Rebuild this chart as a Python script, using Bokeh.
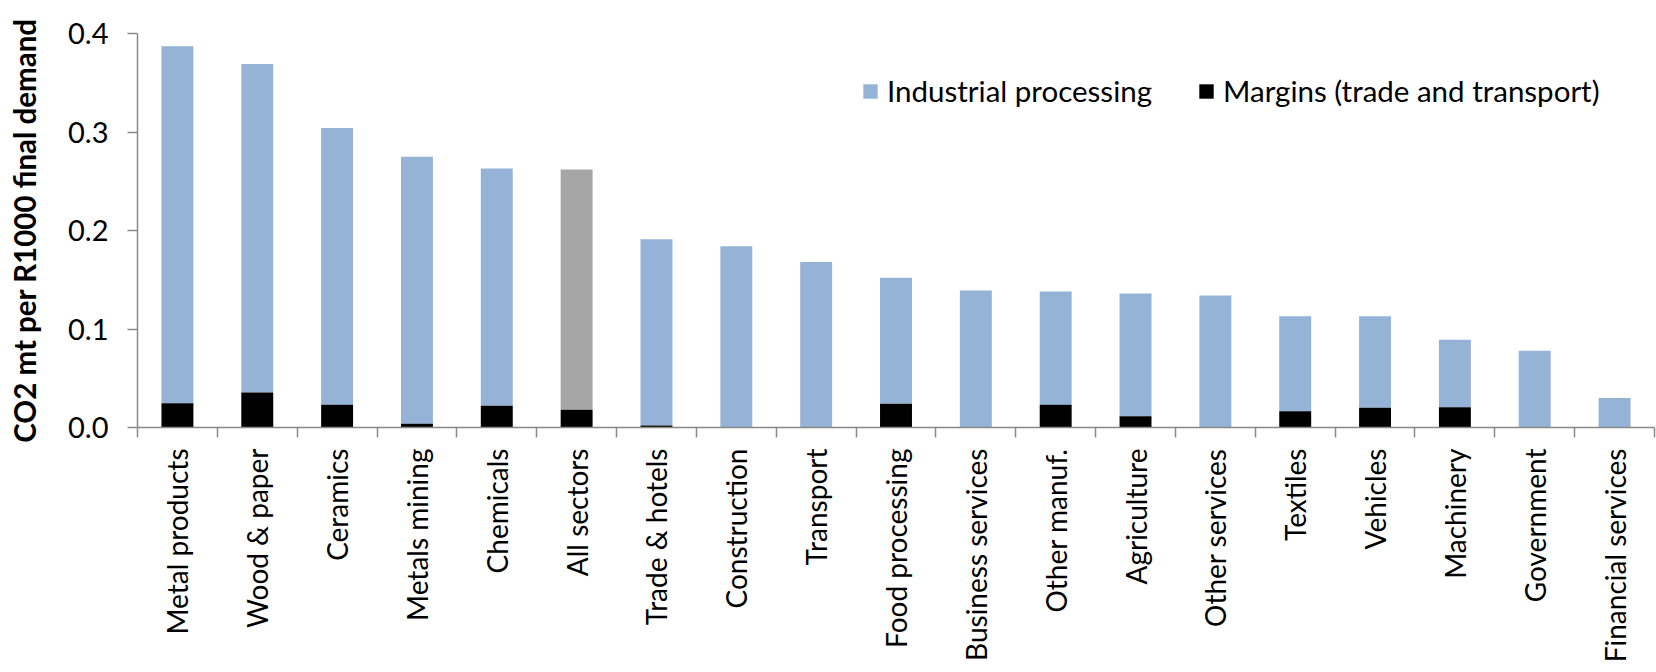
import math
import numpy as np
from bokeh.plotting import figure
from bokeh.models import (ColumnDataSource, Range1d, FixedTicker, LinearAxis, Legend,
                          LegendItem, NumeralTickFormatter)
from bokeh.embed import file_html
from bokeh.resources import INLINE

# ---------------- data ----------------
categories = ["Metal products", "Wood & paper", "Ceramics", "Metals mining", "Chemicals",
              "All sectors", "Trade & hotels", "Construction", "Transport", "Food processing",
              "Business services", "Other manuf.", "Agriculture", "Other services", "Textiles",
              "Vehicles", "Machinery", "Government", "Financial services"]
margins = [0.0245, 0.0355, 0.023, 0.0037, 0.022, 0.018, 0.002, 0.0, 0.0, 0.024,
           0.0, 0.023, 0.0115, 0.0, 0.0166, 0.020, 0.0206, 0.0, 0.0]
processing = [0.3625, 0.3335, 0.281, 0.2713, 0.241, 0.244, 0.189, 0.184, 0.168, 0.128,
              0.139, 0.115, 0.1245, 0.134, 0.0964, 0.093, 0.0684, 0.078, 0.030]
y_ticks = [0.0, 0.1, 0.2, 0.3, 0.4]
series_names = ["Industrial processing", "Margins (trade and transport)"]
y_title = "CO2 mt per R1000 final demand"

# ---------------- styles ----------------
BLUE = "#95B3D7"
GREY = "#A6A6A6"
BLACK = "#000000"
AXIS = "#898989"
FONT = "Lato"

n = len(categories)
centers = [i + 0.5 for i in range(n)]
bounds = [float(i) for i in range(n + 1)]
m = np.array(margins)
tops = m + np.array(processing)
top_colors = [GREY if c == "All sectors" else BLUE for c in categories]

src = ColumnDataSource(dict(x=centers, m=m, top=tops, zero=[0.0] * n, color=top_colors))

p = figure(width=1656, height=672, output_backend="svg", toolbar_location=None,
           x_range=Range1d(0, n), y_range=Range1d(0, 0.4),
           x_axis_type=None, y_axis_type=None,
           min_border_left=137, min_border_right=2, min_border_top=33, min_border_bottom=245)
p.outline_line_color = None
p.background_fill_color = "white"
p.border_fill_color = "white"

r_proc = p.vbar(x="x", bottom="m", top="top", width=0.4, fill_color="color",
                line_color=None, source=src)
r_marg = p.vbar(x="x", bottom="zero", top="m", width=0.4, fill_color=BLACK,
                line_color=None, source=src)

# y axis
yaxis = LinearAxis(ticker=FixedTicker(ticks=y_ticks), formatter=NumeralTickFormatter(format="0.0"))
yaxis.axis_line_color = AXIS
yaxis.axis_line_width = 1.5
yaxis.major_tick_line_color = AXIS
yaxis.major_tick_line_width = 1.5
yaxis.major_tick_out = 10
yaxis.major_tick_in = 0
yaxis.minor_tick_line_color = None
yaxis.major_label_standoff = 19
yaxis.major_label_text_font = FONT
yaxis.major_label_text_font_size = "29px"
yaxis.major_label_text_color = "black"
yaxis.axis_label = y_title
yaxis.axis_label_text_font = FONT
yaxis.axis_label_text_font_style = "bold"
yaxis.axis_label_text_font_size = "29.5px"
yaxis.axis_label_text_color = "black"
yaxis.axis_label_standoff = 23
p.add_layout(yaxis, "left")

# x axis (labels at centres, tick marks at category boundaries)
xaxis = LinearAxis(ticker=FixedTicker(ticks=centers, minor_ticks=bounds),
                   major_label_overrides={c: name for c, name in zip(centers, categories)})
xaxis.axis_line_color = AXIS
xaxis.axis_line_width = 1.5
xaxis.major_tick_line_color = None
xaxis.major_tick_out = 10
xaxis.major_tick_in = 0
xaxis.minor_tick_line_color = AXIS
xaxis.minor_tick_line_width = 1.5
xaxis.minor_tick_out = 10
xaxis.minor_tick_in = 0
xaxis.major_label_orientation = math.pi / 2
xaxis.major_label_standoff = 11
xaxis.major_label_text_font = FONT
xaxis.major_label_text_font_size = "28px"
xaxis.major_label_text_color = "black"
p.add_layout(xaxis, "below")

legend = Legend(items=[LegendItem(label=series_names[0], renderers=[r_proc], index=0),
                       LegendItem(label=series_names[1], renderers=[r_marg], index=0)],
                orientation="horizontal", location=(724, 319),
                glyph_width=18, glyph_height=18, label_standoff=8, spacing=45,
                padding=0, margin=0, border_line_color=None, background_fill_alpha=0,
                label_text_font=FONT, label_text_font_size="29.5px", label_text_color="black")
p.add_layout(legend, "center")

open("out.html", "w").write(file_html(p, INLINE))
